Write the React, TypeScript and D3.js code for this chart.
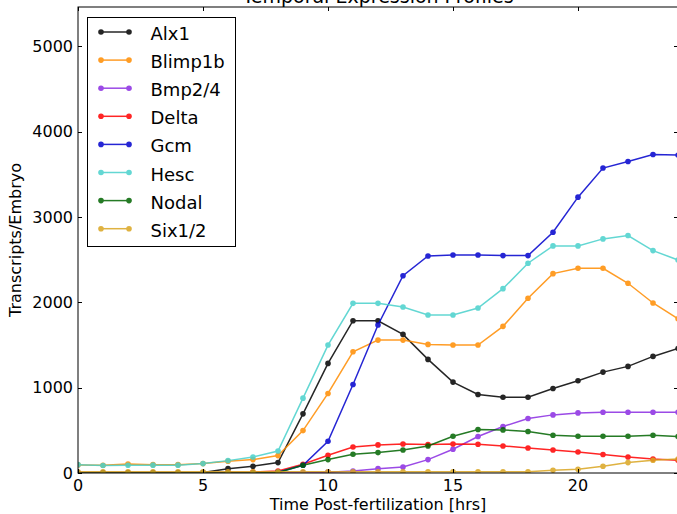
import React, { useEffect, useRef } from "react";
import * as d3 from "d3";

// hours post-fertilization
const hours = [0, 1, 2, 3, 4, 5, 6, 7, 8, 9, 10, 11, 12, 13, 14, 15, 16, 17, 18, 19, 20, 21, 22, 23, 24];

const alx1 = [0, 0, 0, 0, 0, 5, 51, 79, 122, 693, 1284, 1784, 1784, 1624, 1331, 1065, 920, 888, 888, 990, 1080, 1182, 1249, 1366, 1460];
const blimp1b = [95, 90, 106, 98, 98, 110, 137, 157, 204, 497, 932, 1420, 1557, 1557, 1507, 1499, 1499, 1718, 2047, 2336, 2399, 2399, 2223, 1992, 1808];
const bmp24 = [5, 5, 5, 5, 5, 5, 5, 5, 5, 5, 10, 23, 51, 70, 157, 278, 427, 544, 638, 681, 704, 712, 712, 712, 712];
const delta = [0, 0, 0, 0, 0, 0, 5, 10, 23, 102, 208, 305, 329, 340, 333, 340, 336, 317, 293, 270, 246, 216, 188, 164, 149];
const gcm = [0, 0, 0, 0, 0, 0, 0, 0, 10, 90, 372, 1037, 1734, 2312, 2543, 2555, 2555, 2547, 2547, 2821, 3232, 3573, 3650, 3732, 3725];
const hesc = [98, 87, 90, 92, 92, 110, 145, 188, 258, 877, 1499, 1988, 1988, 1945, 1851, 1851, 1933, 2160, 2458, 2661, 2661, 2743, 2782, 2606, 2496];
const nodal = [0, 0, 0, 0, 0, 0, 0, 0, 5, 90, 157, 219, 239, 270, 317, 431, 509, 505, 486, 442, 431, 431, 431, 442, 427];
const six12 = [15, 15, 15, 15, 15, 15, 15, 15, 15, 15, 15, 15, 15, 15, 15, 15, 15, 15, 15, 32, 43, 79, 122, 149, 164];

const geneNames = ["Alx1", "Blimp1b", "Bmp2/4", "Delta", "Gcm", "Hesc", "Nodal", "Six1/2"];
const geneValues = [alx1, blimp1b, bmp24, delta, gcm, hesc, nodal, six12];
const geneColors = ["#000000", "#ff8c00", "#8a2be2", "#ff0000", "#0000cd", "#48d1cc", "#006400", "#daa520"];

const xTicks = [0, 5, 10, 15, 20];
const yTicks = [0, 1000, 2000, 3000, 4000, 5000];

const W = 677;
const H = 514;
const FONT = "DejaVu Sans, sans-serif";

const App = () => {
  const ref = useRef<SVGSVGElement | null>(null);

  useEffect(() => {
    if (!ref.current) return;
    const svg = d3.select(ref.current);
    svg.selectAll("*").remove();

    const left = 78, right = 678, top = 7, bottom = 473;
    const x = d3.scaleLinear().domain([0, 24]).range([left, right]);
    const y = d3.scaleLinear().domain([0, 5460]).range([bottom, top]);

    svg.append("rect").attr("width", W).attr("height", H).attr("fill", "#fff");

    svg
      .append("defs")
      .append("clipPath")
      .attr("id", "axclip")
      .append("rect")
      .attr("x", left)
      .attr("y", top)
      .attr("width", right - left)
      .attr("height", bottom - top);

    const plot = svg.append("g").attr("clip-path", "url(#axclip)");

    const line = d3
      .line<number>()
      .x((d, i) => x(hours[i]))
      .y((d) => y(d));

    geneValues.forEach((vals, k) => {
      const g = plot.append("g").attr("opacity", 0.85);
      g.append("path")
        .datum(vals)
        .attr("fill", "none")
        .attr("stroke", geneColors[k])
        .attr("stroke-width", 1.5)
        .attr("d", line);
      g.selectAll("circle")
        .data(vals)
        .enter()
        .append("circle")
        .attr("cx", (d, i) => x(hours[i]))
        .attr("cy", (d) => y(d))
        .attr("r", 2.8)
        .attr("fill", geneColors[k]);
    });

    // spines
    svg
      .append("rect")
      .attr("x", left)
      .attr("y", top)
      .attr("width", right - left)
      .attr("height", bottom - top)
      .attr("fill", "none")
      .attr("stroke", "#000")
      .attr("stroke-width", 1);

    // inward ticks on all sides
    const tickLen = 4;
    xTicks.forEach((t) => {
      const px = Math.round(x(t)) + 0.5;
      svg.append("line").attr("x1", px).attr("x2", px).attr("y1", bottom).attr("y2", bottom - tickLen).attr("stroke", "#000");
      svg.append("line").attr("x1", px).attr("x2", px).attr("y1", top).attr("y2", top + tickLen).attr("stroke", "#000");
      svg
        .append("text")
        .attr("x", x(t))
        .attr("y", 491)
        .attr("text-anchor", "middle")
        .attr("font-family", FONT)
        .attr("font-size", 16)
        .attr("fill", "#000")
        .text(t);
    });
    yTicks.forEach((t) => {
      const py = Math.round(y(t)) + 0.5;
      svg.append("line").attr("x1", left).attr("x2", left + tickLen).attr("y1", py).attr("y2", py).attr("stroke", "#000");
      svg.append("line").attr("x1", right).attr("x2", right - tickLen).attr("y1", py).attr("y2", py).attr("stroke", "#000");
      svg
        .append("text")
        .attr("x", left - 5)
        .attr("y", y(t))
        .attr("dy", "0.36em")
        .attr("text-anchor", "end")
        .attr("font-family", FONT)
        .attr("font-size", 16)
        .attr("fill", "#000")
        .text(t);
    });

    // title, mostly cut off at the top of the figure
    svg
      .append("text")
      .attr("x", (left + right) / 2)
      .attr("y", 2.5)
      .attr("text-anchor", "middle")
      .attr("font-family", FONT)
      .attr("font-size", 19)
      .text("Temporal Expression Profiles");

    svg
      .append("text")
      .attr("x", (left + right) / 2)
      .attr("y", 510)
      .attr("text-anchor", "middle")
      .attr("font-family", FONT)
      .attr("font-size", 16)
      .text("Time Post-fertilization [hrs]");

    svg
      .append("text")
      .attr("transform", `translate(21,${(top + bottom) / 2}) rotate(-90)`)
      .attr("text-anchor", "middle")
      .attr("font-family", FONT)
      .attr("font-size", 16)
      .text("Transcripts/Embryo");

    // legend
    const lg = svg.append("g");
    lg.append("rect")
      .attr("x", 87.5)
      .attr("y", 17.5)
      .attr("width", 148)
      .attr("height", 229)
      .attr("fill", "#fff")
      .attr("stroke", "#000")
      .attr("stroke-width", 1);
    geneNames.forEach((name, k) => {
      const ly = 32 + k * 28.1;
      const row = lg.append("g").attr("opacity", 0.85);
      row.append("line").attr("x1", 101).attr("x2", 129).attr("y1", ly).attr("y2", ly).attr("stroke", geneColors[k]).attr("stroke-width", 1.5);
      [101, 129].forEach((cx) => row.append("circle").attr("cx", cx).attr("cy", ly).attr("r", 2.8).attr("fill", geneColors[k]));
      lg.append("text")
        .attr("x", 150.5)
        .attr("y", ly + 8)
        .attr("font-family", FONT)
        .attr("font-size", 18)
        .attr("fill", "#000")
        .text(name);
    });
  }, []);

  return (
    <svg
      ref={ref}
      width={W}
      height={H}
      style={{ position: "absolute", left: 0, top: 0, display: "block" }}
    />
  );
};

export default App;
